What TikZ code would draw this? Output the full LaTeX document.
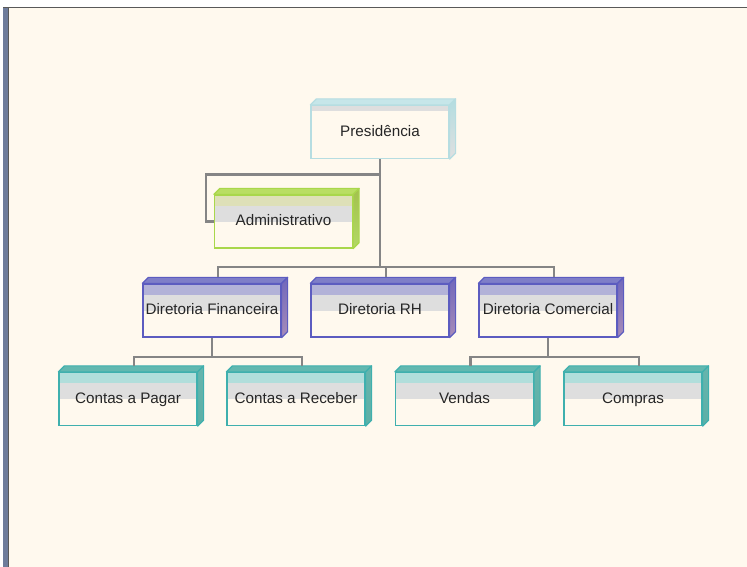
\documentclass[tikz,border=0pt]{standalone}
\usepackage{fontspec}
\setmainfont{Liberation Sans}
\usetikzlibrary{positioning, calc}

\definecolor{bgcream}{HTML}{FFF9EE}
\definecolor{framebar}{HTML}{6E7C9B}
\definecolor{linkgray}{HTML}{858585}
\definecolor{bandgray}{HTML}{DEDEDE}
\definecolor{presLine}{HTML}{B6DDE1}
\definecolor{presTop}{HTML}{C6E6E9}
\definecolor{presBand}{HTML}{DEDEDE}
\definecolor{presSide}{HTML}{B3DDE0}
\definecolor{presSideLow}{HTML}{E0E0E0}
\definecolor{admLine}{HTML}{A9D74B}
\definecolor{admTop}{HTML}{B9DE63}
\definecolor{admBand}{HTML}{DEE0B8}
\definecolor{admSide}{HTML}{A3C14E}
\definecolor{admSideLow}{HTML}{B2D866}
\definecolor{dirLine}{HTML}{5C5CC0}
\definecolor{dirTop}{HTML}{7E7EC8}
\definecolor{dirBand}{HTML}{B2B2D8}
\definecolor{dirSide}{HTML}{7068BC}
\definecolor{dirSideLow}{HTML}{A88CB8}
\definecolor{subLine}{HTML}{3FB0AE}
\definecolor{subTop}{HTML}{62B8B0}
\definecolor{subBand}{HTML}{B1DEDB}
\definecolor{subSide}{HTML}{66B5AD}
\definecolor{subSideLow}{HTML}{5DAFA6}

\tikzset{
	unit/.style={draw=#1Line, line width=1pt, fill=bgcream, minimum width=4.14cm, minimum height=1.59cm, inner sep=0pt,
		font=\fontsize{13}{15}\selectfont, text=black!85, text height=9.5pt, text depth=2.5pt,
		path picture={
			\fill[#1Band] (path picture bounding box.north west) rectangle ($(path picture bounding box.north east)+(0,11)$);
			\fill[bandgray] ($(path picture bounding box.north west)+(0,11)$) rectangle ($(path picture bounding box.north east)+(0,27)$);
		}},
	head/.style={unit=pres,
		path picture={
			\fill[bandgray] (path picture bounding box.north west) rectangle ($(path picture bounding box.north east)+(0,6)$);
		}},
	link/.style={draw=linkgray, line width=1.8pt},
}

\begin{document}
\begin{tikzpicture}[x=0.03cm, y=-0.03cm]
	\useasboundingbox (0,0) rectangle (747,567);
	\fill[bgcream] (8,8) rectangle (747,567);
	\fill[framebar] (3,8) rectangle (8,567);
	\draw[black!65, line width=0.6pt] (8,8) -- (8,567);
	\draw[black!65, line width=0.9pt] (3,7.5) -- (747,7.5);

	\node (pres) at (380,132) [head] {Presidência};
	\node (adm) at (283.5,221.5) [unit=adm] {Administrativo};

	\node (fin) at (212,310.5) [unit=dir] {Diretoria Financeira};
	\node (rh) at (380,310.5) [unit=dir] {Diretoria RH};
	\node (com) at (548,310.5) [unit=dir] {Diretoria Comercial};

	\node (pag) at (128,399) [unit=sub] {Contas a Pagar};
	\node (rec) at (296,399) [unit=sub] {Contas a Receber};
	\node (ven) at (464.5,399) [unit=sub] {Vendas};
	\node (cmp) at (633,399) [unit=sub] {Compras};

	%3d faces
	\foreach \n/\c in {pres/pres,adm/adm,fin/dir,rh/dir,com/dir,pag/sub,rec/sub,ven/sub,cmp/sub}{
		\filldraw[fill=\c Top, draw=\c Line, line width=1pt, line join=round] (\n.north west) -- ++(6,-6) -- ($(\n.north east)+(6,-6)$) -- (\n.north east) -- cycle;
		\shadedraw[top color=\c Side, bottom color=\c SideLow, draw=\c Line, line width=1pt, line join=round] (\n.north east) -- ++(6,-6) -- ($(\n.south east)+(6,-6)$) -- (\n.south east) -- cycle;
	}

	%links
	\draw[link] (pres.south) |- ($(adm.west)+(-8,-47)$) |- (adm.west);
	\foreach \n in {fin,rh,com}
		\draw[link] (pres.south) |- ($(\n.north)+(6,-16)$) -- ($(\n.north)+(6,-6)$);
	\foreach \n in {pag,rec}
		\draw[link] (fin.south) |- ($(\n.north)+(6,-15)$) -- ($(\n.north)+(6,-6)$);
	\foreach \n in {ven,cmp}
		\draw[link] (com.south) |- ($(\n.north)+(6,-15)$) -- ($(\n.north)+(6,-6)$);
\end{tikzpicture}
\end{document}
